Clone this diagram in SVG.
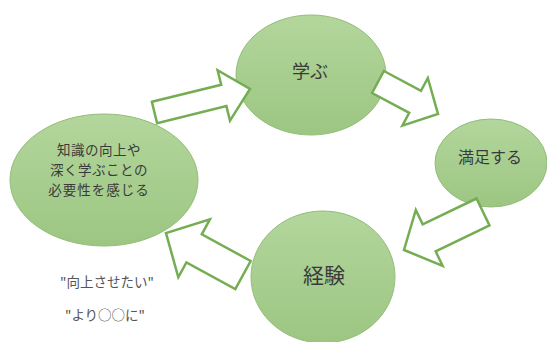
<svg xmlns="http://www.w3.org/2000/svg" width="547" height="342" viewBox="0 0 547 342">
<defs>
<linearGradient id="g" x1="0" y1="0" x2="0" y2="1">
<stop offset="0" stop-color="#b3d69c"/>
<stop offset="1" stop-color="#9cc682"/>
</linearGradient>
<style>
.node{fill:url(#g);stroke:#93bd78;stroke-width:1}
.t{font-family:"Noto Sans CJK JP","Noto Sans",sans-serif;fill:#3a3a3a;text-anchor:middle}
.q{font-family:"Noto Sans CJK JP","Noto Sans",sans-serif;fill:#555;text-anchor:middle;font-size:13.5px}
.arr{fill:#fff;stroke:#74ad52;stroke-width:2.5;stroke-linejoin:miter}
</style>
</defs>
<rect width="547" height="342" fill="#fff"/>
<g id="node-need">
<ellipse class="node" cx="104" cy="180" rx="94" ry="66"/>
<text class="t" font-size="13.5" x="99" y="155" letter-spacing="0.5">知識の向上や</text>
<text class="t" font-size="13.5" x="99" y="175" letter-spacing="0.5">深く学ぶことの</text>
<text class="t" font-size="13.5" x="99" y="195" letter-spacing="1">必要性を感じる</text>
</g>
<g id="node-learn">
<ellipse class="node" cx="311" cy="75" rx="75" ry="60"/>
<text class="t" font-size="18" x="310" y="78">学ぶ</text>
</g>
<g id="node-satisfy">
<ellipse class="node" cx="491" cy="163" rx="56" ry="44"/>
<text class="t" font-size="16" x="490" y="163">満足する</text>
</g>
<g id="node-experience">
<ellipse class="node" cx="323" cy="277" rx="72" ry="66"/>
<text class="t" font-size="21" x="324" y="283">経験</text>
</g>
<g id="connectors">
<polygon class="arr" points="151.9,101.8 221.2,84.8 217.6,70.2 250,89 230,120.7 226.4,106.1 157.1,123.2"/>
<polygon class="arr" points="383.9,71 421,90.8 427.8,78 438,114 402.4,125.6 409.2,112.8 372.1,93"/>
<polygon class="arr" points="476.5,198.5 422.7,224.4 415.8,210 404,250 442.6,265.8 435.7,251.4 489.5,225.5"/>
<polygon class="arr" points="250.7,261 201.8,234.3 209.9,219.3 166,233 178.3,277.3 186.4,262.4 235.3,289"/>
</g>
<g id="notes">
<text class="q" x="107" y="287">"向上させたい"</text>
<text class="q" x="105" y="320">"より○○に"</text>
</g>
</svg>
